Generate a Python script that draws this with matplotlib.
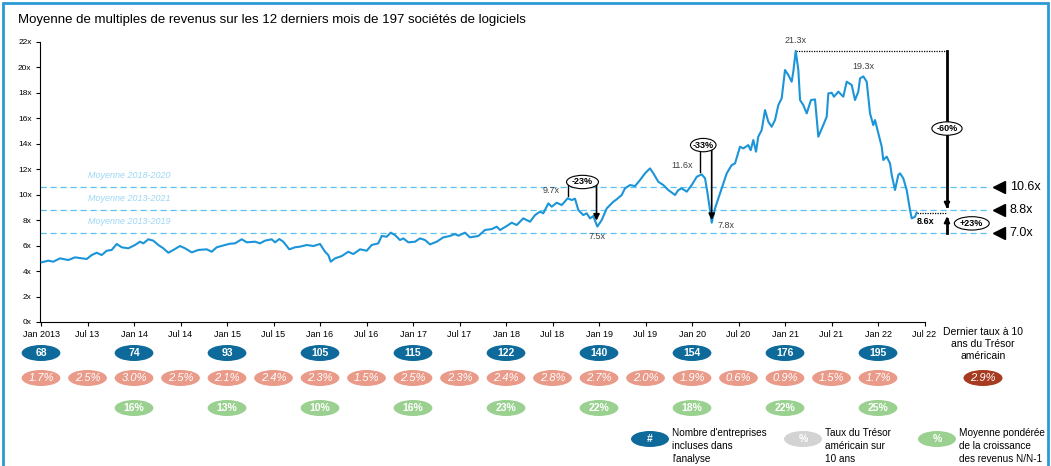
import matplotlib
matplotlib.use("Agg")
import matplotlib.pyplot as plt
import numpy as np
from matplotlib.patches import Ellipse, Rectangle
from matplotlib.transforms import blended_transform_factory

plt.rcParams['font.family'] = ['Liberation Sans', 'DejaVu Sans']

# ---- data (x = months since Jan 2013) ----
months = [0.09, 0.94, 1.59, 2.45, 3.52, 4.39, 5.9, 6.54, 7.19, 7.83, 8.48, 9.12, 9.77,
          10.41, 11.26, 12.13, 12.77, 13.2, 13.85, 14.49, 15.14, 15.78, 16.43, 17.07,
          17.94, 18.58, 19.45, 20.3, 21.38, 22.03, 22.67, 23.74, 24.39, 25.03, 25.9,
          26.55, 27.61, 28.26, 28.9, 29.77, 30.19, 30.75, 31.26, 32.04, 32.77, 33.42,
          34.28, 35.14, 36.0, 36.65, 37.07, 37.38, 37.94, 38.8, 39.65, 40.3, 41.16,
          42.03, 42.67, 43.52, 43.96, 44.61, 45.12, 45.68, 46.32, 46.75, 47.39, 48.26,
          48.9, 49.55, 50.19, 51.06, 51.91, 52.77, 53.42, 53.85, 54.71, 55.35, 56.43,
          57.29, 58.15, 58.8, 59.23, 60.09, 60.74, 61.38, 62.23, 63.1, 63.74, 64.39,
          64.81, 65.46, 65.9, 66.54, 67.19, 67.96, 68.48, 68.9, 69.33, 69.97, 70.41,
          70.84, 71.26, 71.78, 72.35, 73.0, 73.85, 74.28, 74.93, 75.35, 76.0, 76.65,
          77.29, 77.94, 78.58, 79.01, 79.65, 80.3, 80.94, 81.81, 82.23, 82.67, 83.32,
          83.96, 84.61, 85.25, 85.68, 85.97, 86.32, 86.54, 86.97, 87.61, 88.48, 89.12,
          89.55, 90.19, 90.62, 91.26, 91.57, 91.91, 92.26, 92.55, 92.99, 93.42, 93.85,
          94.28, 94.71, 95.14, 95.57, 96.0, 96.43, 96.86, 97.07, 97.38, 97.72, 97.94,
          98.36, 98.8, 99.35, 99.87, 100.3, 100.94, 101.38, 101.59, 102.03, 102.32,
          102.88, 103.52, 103.96, 104.61, 105.03, 105.46, 105.68, 106.1, 106.54,
          106.97, 107.39, 107.61, 108.04, 108.48, 108.68, 109.12, 109.55, 109.77,
          110.19, 110.62, 110.84, 111.26, 111.7, 112.13, 112.35, 112.77, 112.99]
multiples = [4.69, 4.82, 4.74, 5.0, 4.87, 5.08, 4.95, 5.26, 5.44, 5.26, 5.6, 5.66, 6.13,
             5.87, 5.79, 6.05, 6.31, 6.18, 6.5, 6.39, 6.05, 5.79, 5.44, 5.66,
             5.97, 5.79, 5.47, 5.66, 5.71, 5.52, 5.87, 6.05, 6.15, 6.18, 6.5,
             6.26, 6.31, 6.18, 6.39, 6.5, 6.26, 6.52, 6.31, 5.71, 5.87, 5.92,
             6.05, 5.97, 6.13, 5.52, 5.26, 4.74, 5.0, 5.18, 5.52, 5.34, 5.71,
             5.6, 6.05, 6.18, 6.76, 6.7, 7.02, 6.83, 6.44, 6.57, 6.26, 6.31,
             6.57, 6.44, 6.1, 6.31, 6.65, 6.76, 6.91, 6.78, 7.02, 6.65, 6.76,
             7.23, 7.3, 7.49, 7.23, 7.54, 7.8, 7.62, 8.14, 7.88, 8.4, 8.67,
             8.54, 9.32, 9.06, 9.37, 9.19, 9.72, 9.58, 9.69, 8.8, 8.4, 8.54,
             8.14, 8.33, 7.5, 8.01, 8.93, 9.45, 9.64, 9.98, 10.5, 10.76, 10.68,
             11.15, 11.68, 12.07, 11.68, 11.02, 10.76, 10.37, 9.98, 10.37, 10.5, 10.24,
             10.76, 11.41, 11.6, 11.29, 10.24, 8.8, 7.8, 8.93, 10.1, 11.68, 12.33,
             12.46, 13.77, 13.64, 13.9, 13.5, 14.3, 13.38, 14.56, 15.08, 16.65, 15.73,
             15.34, 15.87, 17.05, 17.57, 19.8, 19.4, 18.88, 19.66, 21.3, 19.8, 17.44,
             17.05, 16.39, 17.44, 17.49, 14.56, 15.47, 16.13, 17.96, 18.01, 17.7,
             18.1, 17.7, 18.88, 18.62, 17.44, 18.1, 19.14, 19.3, 18.88,
             16.39, 15.47, 15.87, 14.82, 13.77, 12.73, 12.99, 12.46, 11.55,
             10.37, 11.55, 11.68, 11.29, 10.37, 8.8, 8.14, 8.27, 8.6]

avg_labels = ['Moyenne 2018-2020', 'Moyenne 2013-2021', 'Moyenne 2013-2019']
avg_values = [10.6, 8.8, 7.0]

tick_labels = ['Jan 2013', 'Jul 13', 'Jan 14', 'Jul 14', 'Jan 15', 'Jul 15', 'Jan 16',
               'Jul 16', 'Jan 17', 'Jul 17', 'Jan 18', 'Jul 18', 'Jan 19', 'Jul 19',
               'Jan 20', 'Jul 20', 'Jan 21', 'Jul 21', 'Jan 22', 'Jul 22']
companies = [68, 74, 93, 105, 115, 122, 140, 154, 176, 195]
treasury = [1.7, 2.5, 3.0, 2.5, 2.1, 2.4, 2.3, 1.5, 2.5, 2.3, 2.4, 2.8, 2.7, 2.0,
            1.9, 0.6, 0.9, 1.5, 1.7]
growth = [16, 13, 10, 16, 23, 22, 18, 22, 25]
last_rate = 2.9

months = np.array(months)
multiples = np.array(multiples)

LINE = '#1B95D8'
DASH = '#5DC1F1'
DARKBLUE = '#0D6A9A'
SALMON = '#E99A89'
GREEN = '#9AD190'
DARKRED = '#A63B21'
GREY = '#D3D3D3'

fig = plt.figure(figsize=(10.51, 4.66), dpi=100)
W, H = 1051, 466
ax = fig.add_axes([40 / W, 1 - 322 / H, 950 / W, 280 / H])

ax.plot(months, multiples, color=LINE, lw=1.5, zorder=3)

for lab, v in zip(avg_labels, avg_values):
    ax.axhline(v, color=DASH, lw=0.9, ls=(0, (5, 3)), zorder=1)
    ax.text(6.0, v + 0.9, lab, color='#9CD7F5', style='italic', fontsize=6.5,
            va='center', ha='left')
    ax.plot([123.6], [v], marker='<', color='black', ms=8, clip_on=False)
    ax.text(125.0, v, f'{v:.1f}x', fontsize=9, va='center', ha='left', clip_on=False)

ax.set_xlim(-0.13, 122.45)
ax.set_ylim(0, 22)
xt = np.arange(0, 6 * len(tick_labels), 6)
ax.set_xticks(xt)
ax.set_xticklabels(tick_labels, fontsize=6.5)
ax.set_yticks(np.arange(0, 23, 2))
ax.set_yticklabels([f'{t}x' for t in range(0, 23, 2)], fontsize=6)
ax.tick_params(axis='both', length=3, width=0.8, direction='out', pad=3)
ax.spines['top'].set_visible(False)
ax.spines['right'].set_visible(False)
ax.spines['bottom'].set_bounds(0, xt[-1])


def oval(x, y, txt, w=3.8, h=1.05, fs=6.5):
    ax.add_patch(Ellipse((x, y), w, h, fc='white', ec='black', lw=0.8, zorder=6,
                         clip_on=False))
    ax.text(x, y, txt, fontsize=fs, fontweight='bold', ha='center', va='center',
            zorder=7)


def find_peak(lo, hi, mode='max'):
    sel = np.where((months >= lo) & (months <= hi))[0]
    i = sel[np.argmax(multiples[sel])] if mode == 'max' else sel[np.argmin(multiples[sel])]
    return months[i], multiples[i]


arrow_kw = dict(arrowstyle='-|>', color='black', lw=1.2, mutation_scale=9)

# -23% drop 2018
pm, pv = find_peak(60, 70)
tm, tv = find_peak(69, 74, 'min')
ey = 11.0
ax.plot([pm, pm], [pv + 0.2, ey], color='black', lw=1)
ax.annotate('', xy=(tm - 0.1, tv + 0.25), xytext=(tm - 0.1, ey), arrowprops=arrow_kw, zorder=5)
oval((pm + tm) / 2, ey, '-23%', w=tm - pm + 0.3)
ax.text(pm - 1.0, pv + 0.65, f'{pv:.1f}x', fontsize=6.5, color='#404040', ha='right', va='center')
ax.text(tm, tv - 0.8, f'{tv:.1f}x', fontsize=6.5, color='#404040', ha='center', va='center')

# -33% drop 2020
pm, pv = find_peak(80, 86.2)
tm, tv = find_peak(86, 88, 'min')
ey = 13.9
ax.plot([pm - 0.2, pm - 0.2], [pv + 0.2, ey], color='black', lw=1)
ax.annotate('', xy=(tm, tv), xytext=(tm, ey), arrowprops=arrow_kw, zorder=5)
oval(pm + 0.2, ey, '-33%', w=3.3)
ax.text(pm - 1.2, pv + 0.7, f'{pv:.1f}x', fontsize=6.5, color='#404040', ha='right', va='center')
ax.text(tm + 0.8, tv - 0.25, f'{tv:.1f}x', fontsize=6.5, color='#404040', ha='left', va='center')

# peaks 2021
mm, mv = find_peak(90, 100)
ax.text(mm, mv + 0.8, f'{mv:.1f}x', fontsize=6.5, color='#404040', ha='center', va='center')
m2, v2 = find_peak(102, 108)
ax.text(m2, v2 + 0.75, f'{v2:.1f}x', fontsize=6.5, color='#404040', ha='center', va='center')

# -60% / +23%
xv = 116.9
em, ev = months[-1], multiples[-1]
ax.plot([mm, xv], [mv, mv], color='black', lw=0.9, ls=(0, (1, 1)), clip_on=False)
ax.plot([em, xv], [ev, ev], color='black', lw=0.9, ls=(0, (1, 1)), clip_on=False)
ax.plot([xv, xv], [mv, ev + 0.5], color='black', lw=2, clip_on=False)
ax.annotate('', xy=(xv, ev + 0.1), xytext=(xv, ev + 0.8),
            arrowprops=dict(arrowstyle='-|>', color='black', lw=1.5, mutation_scale=8))
ax.plot([xv, xv], [avg_values[2], ev - 0.5], color='black', lw=2, clip_on=False)
ax.annotate('', xy=(xv, ev - 0.1), xytext=(xv, ev - 0.8),
            arrowprops=dict(arrowstyle='-|>', color='black', lw=1.5, mutation_scale=8))
oval(xv, 15.2, '-60%', w=3.9)
oval(120.1, 7.75, '+23%', w=4.5)
ax.text(114.2, 7.88, f'{ev:.1f}x', fontsize=6.5, fontweight='bold', ha='center', va='center')

# ---- badges below the axis ----
bt = blended_transform_factory(ax.transData, ax.transAxes)
bw, bh = 5.0, 16 / 280
rows = {'blue': (322 - 353) / 280, 'salmon': (322 - 378) / 280, 'green': (322 - 408) / 280}


def badge(x, y, txt, fc, style='normal', weight='bold', fs=7.5):
    ax.add_patch(Ellipse((x, y), bw, bh, transform=bt, fc=fc, ec='none', clip_on=False))
    ax.text(x, y, txt, transform=bt, color='white', fontsize=fs, fontweight=weight,
            style=style, ha='center', va='center', clip_on=False)


for i, c in enumerate(companies):
    badge(xt[2 * i], rows['blue'], str(c), DARKBLUE)
for i, t in enumerate(treasury):
    badge(xt[i], rows['salmon'], f'{t:.1f}%', SALMON, style='italic', weight='normal', fs=8)
for i, g in enumerate(growth):
    badge(xt[2 * (i + 1)], rows['green'], f'{g}%', GREEN)

ft = fig.transFigure
fig.text(983 / W, 1 - 344 / H, 'Dernier taux à 10\nans du Trésor\naméricain', fontsize=7.5,
         ha='center', va='center', linespacing=1.25)
fig.patches.append(Ellipse((983 / W, 1 - 378 / H), 39 / W, 16 / H, transform=ft,
                           fc=DARKRED, ec='none'))
fig.text(983 / W, 1 - 378 / H, f'{last_rate:.1f}%', color='white', fontsize=8,
         style='italic', ha='center', va='center')

legend = [(650, '#', DARKBLUE, "Nombre d'entreprises\nincluses dans\nl'analyse"),
          (803, '%', GREY, 'Taux du Trésor\naméricain sur\n10 ans'),
          (937, '%', GREEN, 'Moyenne pondérée\nde la croissance\ndes revenus N/N-1')]
for x, sym, col, txt in legend:
    fig.patches.append(Ellipse((x / W, 1 - 439 / H), 38 / W, 16 / H, transform=ft,
                               fc=col, ec='none'))
    fig.text(x / W, 1 - 439 / H, sym, color='white', fontsize=7.5, fontweight='bold',
             ha='center', va='center')
    fig.text((x + 22) / W, 1 - 446 / H, txt, fontsize=7.2, ha='left', va='center',
             linespacing=1.35)

fig.text(18 / W, 1 - 20 / H, 'Moyenne de multiples de revenus sur les 12 derniers mois '
         'de 197 sociétés de logiciels', fontsize=9.5, ha='left', va='center')
fig.patches.append(Rectangle((3 / W, -0.05), 1045 / W, 1.05 - 3 / H, transform=ft,
                             fill=False, ec='#2A9AD6', lw=2))

fig.savefig('out.png', dpi=100)
